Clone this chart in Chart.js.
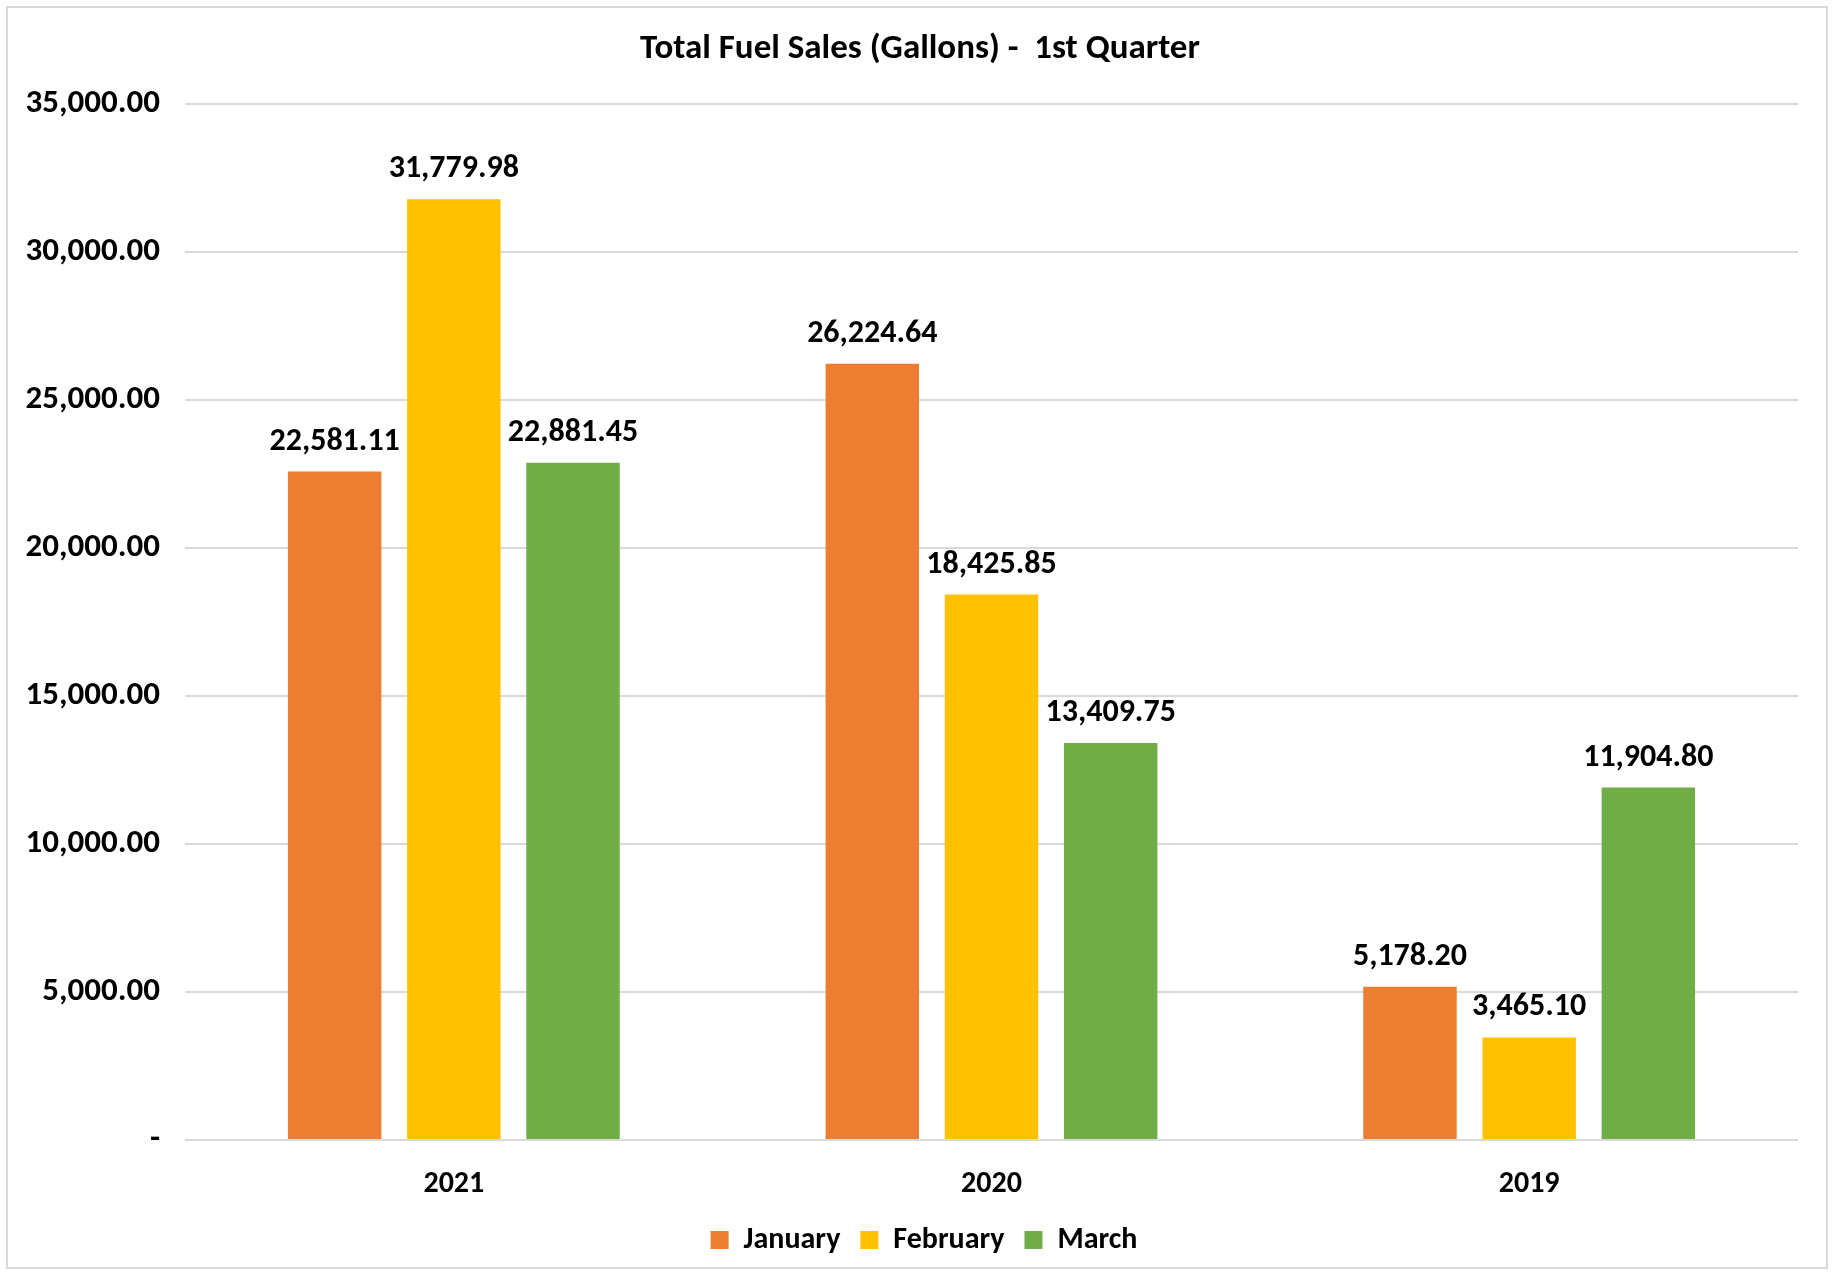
<!DOCTYPE html>
<html>
<head>
<meta charset="utf-8">
<title>Total Fuel Sales (Gallons) - 1st Quarter</title>
<script src="https://cdn.jsdelivr.net/npm/chart.js@4/dist/chart.umd.min.js"></script>
<style>
  html, body { margin: 0; padding: 0; background: #fff; }
  #frame {
    position: absolute; left: 6px; top: 6px; width: 1822px; height: 1263px;
    border: 2px solid #d9d9d9; box-sizing: border-box;
  }
  #salesChart { position: absolute; left: 0; top: 0; }
</style>
</head>
<body>
<div id="frame"></div>
<canvas id="salesChart" width="1833" height="1273"></canvas>
<script>
// Categories and series (gallons sold per month)
const years = ['2021', '2020', '2019'];
const january = [22581.11, 26224.64, 5178.20];
const february = [31779.98, 18425.85, 3465.10];
const march = [22881.45, 13409.75, 11904.80];

const FONT = 'Carlito, Calibri, Lato, "Noto Sans", sans-serif';

// number format like the spreadsheet: 2 decimals, thousands separators, zero as "-"
function fmt(v) {
  if (v === 0) return '-';
  return v.toLocaleString('en-US', { minimumFractionDigits: 2, maximumFractionDigits: 2 });
}

// draws the value above each bar
const valueLabels = {
  id: 'valueLabels',
  afterDatasetsDraw(chart) {
    const ctx = chart.ctx;
    ctx.save();
    ctx.font = 'bold 32px ' + FONT;
    ctx.fillStyle = '#000';
    ctx.textAlign = 'center';
    ctx.textBaseline = 'middle';
    chart.data.datasets.forEach((ds, i) => {
      const meta = chart.getDatasetMeta(i);
      meta.data.forEach((bar, j) => {
        ctx.fillText(fmt(ds.data[j]), bar.x, bar.y - 30);
      });
    });
    ctx.restore();
  }
};

// title and legend sit a bit right of the canvas centre in the original
const nudgeBoxes = {
  id: 'nudgeBoxes',
  afterLayout(chart) {
    const shift = (box, dx) => { if (box) { box.left += dx; box.right += dx; } };
    shift(chart.titleBlock, 11);
    shift(chart.legend, 15);
  }
};

const ctx = document.getElementById('salesChart').getContext('2d');
new Chart(ctx, {
  type: 'bar',
  data: {
    labels: years,
    datasets: [
      { label: 'January', data: january, backgroundColor: '#ED7D31' },
      { label: 'February', data: february, backgroundColor: '#FFC000' },
      { label: 'March', data: march, backgroundColor: '#70AD47' }
    ]
  },
  options: {
    responsive: false,
    animation: false,
    categoryPercentage: 0.665,
    barPercentage: 0.784,
    layout: { padding: { left: 20, right: 35, bottom: 8 } },
    scales: {
      x: {
        afterFit(scale) { scale.height = 65; },
        grid: { display: false, drawTicks: false },
        border: { display: false },
        ticks: { color: '#000', padding: 26, font: { family: FONT, size: 30, weight: 'bold' } }
      },
      y: {
        min: 0,
        max: 35000,
        afterFit(scale) { scale.width = 165; },
        grid: { color: '#d9d9d9', lineWidth: 2, drawTicks: false },
        border: { display: false },
        ticks: {
          stepSize: 5000,
          padding: 25,
          color: '#000',
          font: { family: FONT, size: 33, weight: 'bold' },
          callback: (v) => fmt(v)
        }
      }
    },
    plugins: {
      title: {
        display: true,
        text: 'Total Fuel Sales (Gallons) -  1st Quarter',
        color: '#000',
        font: { family: FONT, size: 35, weight: 'bold' },
        padding: { top: 28, bottom: 34 }
      },
      legend: {
        position: 'bottom',
        labels: {
          color: '#000',
          boxWidth: 18,
          boxHeight: 18,
          padding: 20,
          font: { family: FONT, size: 30, weight: 'bold' }
        }
      },
      tooltip: { enabled: false }
    }
  },
  plugins: [valueLabels, nudgeBoxes]
});
</script>
</body>
</html>
